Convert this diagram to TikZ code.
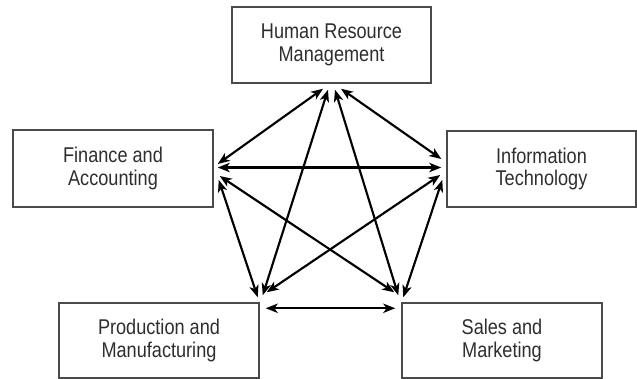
\documentclass[tikz,border=0pt]{standalone}
\usepackage{fontspec}
\setmainfont{Liberation Sans}[FakeStretch=0.85]
\usetikzlibrary{arrows.meta,calc}
\definecolor{inkgray}{HTML}{2E2E2E}
\definecolor{boxgray}{HTML}{4A4A4A}
\begin{document}
\begin{tikzpicture}[x=0.75pt,y=-0.75pt,
  dept/.style={draw=boxgray,line width=1.1pt,fill=white,inner sep=0pt,
    align=center,text=inkgray,
    font=\fontsize{16pt}{17pt}\selectfont},
  link/.style={line width=1.6pt,black,{Stealth[length=9pt,width=7pt,inset=2.5pt]}-{Stealth[length=9pt,width=7pt,inset=2.5pt]}}]
\useasboundingbox (0,0) rectangle (637,379);

% departments
\node[dept,minimum width=149.25pt,minimum height=57pt] (hrm) at (331.5,45) {Human Resource\\Management};
\node[dept,minimum width=150pt,minimum height=57.75pt] (fin) at (113,168.5) {Finance and\\Accounting};
\node[dept,minimum width=141.75pt,minimum height=57pt] (it) at (541.5,169) {Information\\Technology};
\node[dept,minimum width=150pt,minimum height=56.25pt] (prod) at (159,340.5) {Production and\\Manufacturing};
\node[dept,minimum width=150pt,minimum height=56.25pt] (sales) at (502,340.5) {Sales and\\Marketing};

% connection ports around each box
\coordinate (hF) at ($(hrm.south)+(-8.5,5)$);
\coordinate (hI) at ($(hrm.south)+(9.5,5)$);
\coordinate (hP) at ($(hrm.south)+(-3.5,6)$);
\coordinate (hS) at ($(hrm.south)+(3.5,6)$);

\coordinate (fH) at ($(fin.east)+(4,-4.5)$);
\coordinate (fI) at ($(fin.east)+(4,-1)$);
\coordinate (fS) at ($(fin.east)+(6,7.5)$);
\coordinate (fP) at ($(fin.east)+(5,11.5)$);

\coordinate (iH) at ($(it.west)+(-5,-10)$);
\coordinate (iF) at ($(it.west)+(-5,-1.5)$);
\coordinate (iP) at ($(it.west)+(-6,6)$);
\coordinate (iS) at ($(it.west)+(-4,11)$);

\coordinate (pF) at ($(prod.north east)+(-2,-5)$);
\coordinate (pH) at ($(prod.north east)+(3,-7)$);
\coordinate (pI) at ($(prod.north east)+(7,-10)$);
\coordinate (pS) at ($(prod.north east)+(6,6)$);

\coordinate (sI) at ($(sales.north west)+(2,-5)$);
\coordinate (sH) at ($(sales.north west)+(-3,-7)$);
\coordinate (sF) at ($(sales.north west)+(-7,-10)$);
\coordinate (sP) at ($(sales.north west)+(-6,6)$);

% every department linked to every other
\draw[link] (hF) -- (fH);
\draw[link] (hI) -- (iH);
\draw[link] (hP) -- (pH);
\draw[link] (hS) -- (sH);
\draw[link] (fI) -- (iF);
\draw[link] (fP) -- (pF);
\draw[link] (fS) -- (sF);
\draw[link] (iP) -- (pI);
\draw[link] (iS) -- (sI);
\draw[link] (pS) -- (sP);
\end{tikzpicture}
\end{document}
